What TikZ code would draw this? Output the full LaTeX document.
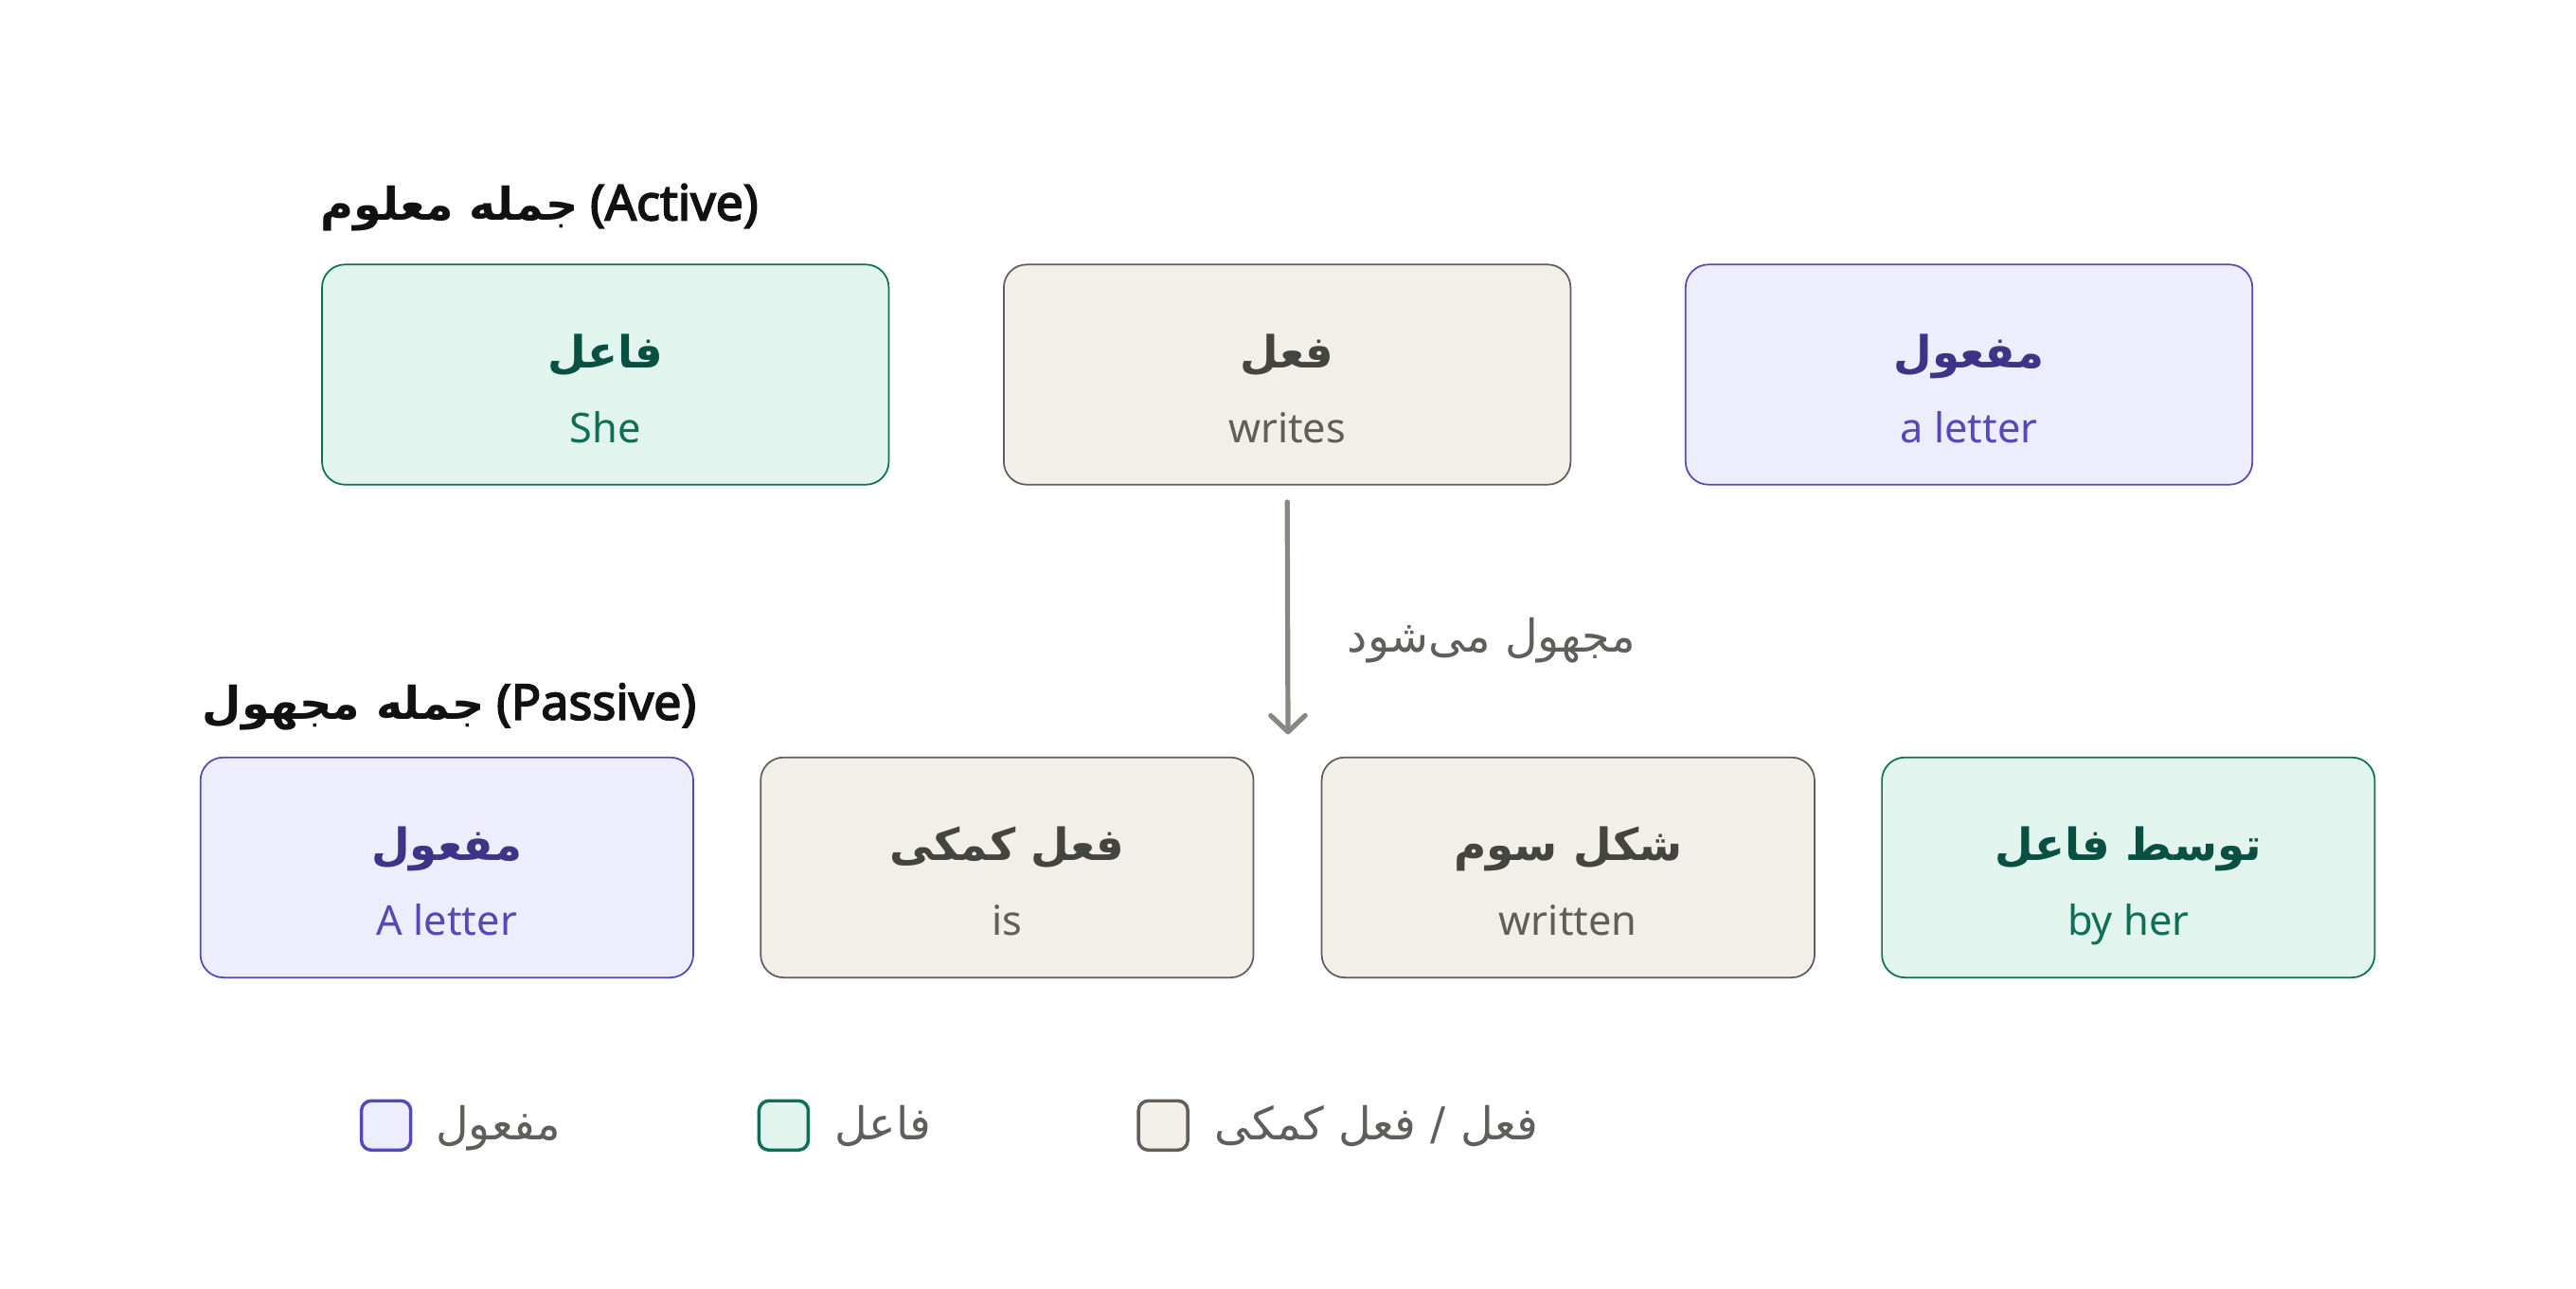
\documentclass[tikz,border=0pt]{standalone}
\usepackage{fontspec}
\setmainfont{Noto Sans}[AutoFakeBold=3.2]
\newfontfamily\arabicfont[Script=Arabic]{DejaVu Sans}
\TeXXeTstate=1
\usetikzlibrary{arrows.meta,calc}
\definecolor{gfill}{HTML}{E1F5EE}
\definecolor{gline}{HTML}{0F6E56}
\definecolor{ghead}{HTML}{085041}
\definecolor{pfill}{HTML}{EEEDFE}
\definecolor{pline}{HTML}{534AB7}
\definecolor{phead}{HTML}{3C3489}
\definecolor{bfill}{HTML}{F1EFE8}
\definecolor{bline}{HTML}{5F5E5A}
\definecolor{bhead}{HTML}{444441}
\definecolor{arrowgray}{HTML}{888780}
\definecolor{titlecol}{HTML}{111111}
\newcommand{\latinttl}[1]{{\fontsize{30}{34}\selectfont #1}}
\begin{document}
\begin{tikzpicture}[x=1pt,y=-1pt,
  card/.style={draw, rounded corners=14pt, line width=1pt, inner sep=0pt, minimum height=134pt},
  wide/.style={minimum width=345pt},
  narrow/.style={minimum width=300pt},
  gcard/.style={card, fill=gfill, draw=gline},
  pcard/.style={card, fill=pfill, draw=pline},
  bcard/.style={card, fill=bfill, draw=bline},
  hd/.style={inner sep=0pt, anchor=base, font=\arabicfont\bfseries\fontsize{27}{32}\selectfont},
  sub/.style={inner sep=0pt, anchor=base, font=\fontsize{25}{30}\selectfont},
  ttl/.style={inner sep=0pt, anchor=base west, text=titlecol, font=\bfseries\fontsize{27.5}{32}\selectfont},
  lgbox/.style={draw, line width=2pt, rounded corners=6pt, minimum width=30pt, minimum height=30pt, inner sep=0pt},
  lgtext/.style={inner sep=0pt, anchor=base west, text=bline, font=\arabicfont\fontsize{27.5}{32}\selectfont},
  flow/.style={draw=arrowgray, line width=3pt, line cap=round, -{Straight Barb[length=10pt,width=21pt,round]}}
]
\useasboundingbox (0,0) rectangle (1568,784);

% titles
\node[ttl] (t1) at (195,134) {{\arabicfont\beginR جمله معلوم\endR} \latinttl{(Active)}};
\node[ttl] (t2) at (123,438) {{\arabicfont\beginR جمله مجهول\endR} \latinttl{(Passive)}};

% top row
\node[gcard,wide] (a1) at (368.5,228) {};
\node[bcard,wide] (a2) at (783.5,228) {};
\node[pcard,wide] (a3) at (1198.5,228) {};
\node[hd,text=ghead] (a1h) at ($(a1.center)+(0,-4)$) {\beginR فاعل\endR};
\node[sub,text=gline] (a1s) at ($(a1.center)+(0,41.5)$) {She};
\node[hd,text=bhead] (a2h) at ($(a2.center)+(0,-4)$) {\beginR فعل\endR};
\node[sub,text=bline] (a2s) at ($(a2.center)+(0,41.5)$) {writes};
\node[hd,text=phead] (a3h) at ($(a3.center)+(0,-4)$) {\beginR مفعول\endR};
\node[sub,text=pline] (a3s) at ($(a3.center)+(0,41.5)$) {a letter};

% bottom row
\node[pcard,narrow] (b1) at (272,528) {};
\node[bcard,narrow] (b2) at (613,528) {};
\node[bcard,narrow] (b3) at (954.5,528) {};
\node[gcard,narrow] (b4) at (1295.5,528) {};
\node[hd,text=phead] (b1h) at ($(b1.center)+(0,-4)$) {\beginR مفعول\endR};
\node[sub,text=pline] (b1s) at ($(b1.center)+(0,41.5)$) {A letter};
\node[hd,text=bhead] (b2h) at ($(b2.center)+(0,-4)$) {\beginR فعل کمکی\endR};
\node[sub,text=bline] (b2s) at ($(b2.center)+(0,41.5)$) {is};
\node[hd,text=bhead] (b3h) at ($(b3.center)+(0,-4)$) {\beginR شکل سوم\endR};
\node[sub,text=bline] (b3s) at ($(b3.center)+(0,41.5)$) {written};
\node[hd,text=ghead] (b4h) at ($(b4.center)+(0,-4)$) {\beginR توسط فاعل\endR};
\node[sub,text=gline] (b4s) at ($(b4.center)+(0,41.5)$) {by her};

% arrow
\coordinate (aend) at (784,447);
\draw[flow, shorten <=10pt] (a2.south) -- (aend);
\node[lgtext] (albl) at (820,397) {\beginR مجهول می‌شود\endR};

% legend
\node[lgbox, fill=pfill, draw=pline] (l1) at (235,685) {};
\node[lgbox, fill=gfill, draw=gline] (l2) at (477,685) {};
\node[lgbox, fill=bfill, draw=bline] (l3) at (708,685) {};
\node[lgtext] (l1t) at (265,694) {\beginR مفعول\endR};
\node[lgtext] (l2t) at (508,694) {\beginR فاعل\endR};
\node[lgtext] (l3t) at (739,694) {\beginR فعل / فعل کمکی\endR};
\end{tikzpicture}
\end{document}
